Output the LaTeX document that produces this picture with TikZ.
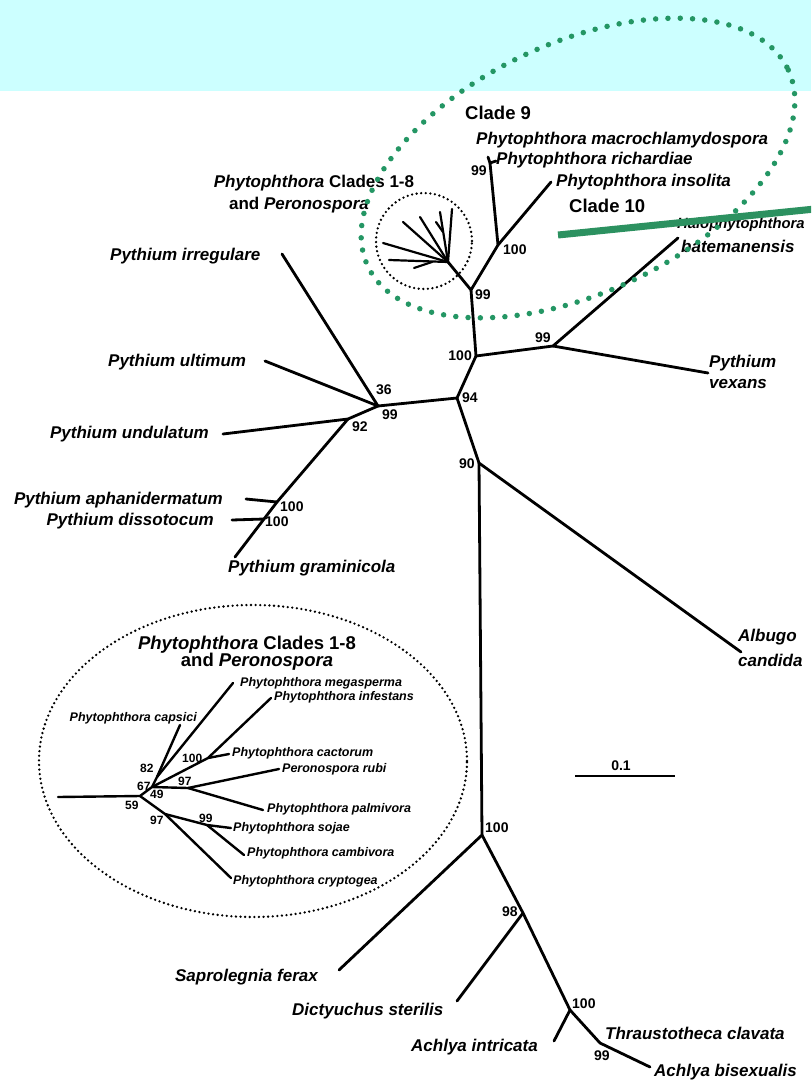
\documentclass[tikz,border=0pt]{standalone}
\usepackage{fontspec}
\setmainfont{Liberation Sans}
\usetikzlibrary{shapes.geometric}
\definecolor{bandcyan}{RGB}{204,255,255}
\definecolor{dotgreen}{RGB}{36,150,100}
\definecolor{linegreen}{RGB}{44,145,96}
\tikzset{
  tree/.style={line width=2.8pt, line cap=round, line join=round},
  itree/.style={line width=2.4pt, line cap=round, line join=round},
  ftree/.style={line width=2.2pt, line cap=round, line join=round},
  taxon/.style={font=\fontsize{17}{19}\selectfont\bfseries\itshape, inner sep=0pt},
  boot/.style={font=\fontsize{14}{16}\selectfont\bfseries, inner sep=0pt},
  itaxon/.style={font=\fontsize{12.5}{14}\selectfont\bfseries\itshape, inner sep=0pt},
  iboot/.style={font=\fontsize{12}{14}\selectfont\bfseries, inner sep=0pt},
  cladelbl/.style={font=\fontsize{18.5}{21}\selectfont\bfseries, inner sep=0pt},
  greendots/.style={draw=dotgreen, line width=5.5pt, line cap=round, dash pattern=on 0pt off 12.3pt},
  blackdots/.style={draw=black, line width=2.6pt, line cap=round, dash pattern=on 0pt off 4.6pt},
}
\begin{document}
\begin{tikzpicture}[x=1pt,y=-1pt]
\useasboundingbox (0,0) rectangle (811,1081);
\fill[bandcyan] (0,0) rectangle (811,91);

% ---------- main tree coordinates ----------
\coordinate (cA) at (471,290);
\coordinate (c100a) at (498,245);
\coordinate (c99a) at (490,163);
\coordinate (eMacro) at (488,157);
\coordinate (eRich) at (496,161);
\coordinate (eInsol) at (551,182);
\coordinate (cRoot) at (448,262);
\coordinate (c100b) at (476,356);
\coordinate (c99b) at (553,346);
\coordinate (eHalo) at (678,238);
\coordinate (eVex) at (708,373);
\coordinate (c94) at (457,398);
\coordinate (c36) at (378,406);
\coordinate (eIrr) at (282,254);
\coordinate (eUlt) at (265,361);
\coordinate (c92) at (348,419);
\coordinate (eUnd) at (223,434);
\coordinate (c100c) at (277,502);
\coordinate (eAph) at (246,499);
\coordinate (c100d) at (264,519);
\coordinate (eDis) at (232,520);
\coordinate (eGram) at (235,557);
\coordinate (c90) at (479,463);
\coordinate (eAlb) at (741,652);
\coordinate (c100e) at (482,835);
\coordinate (eSap) at (339,970);
\coordinate (c98) at (523,913);
\coordinate (eDic) at (457,1001);
\coordinate (c100f) at (570,1010);
\coordinate (eInt) at (554,1041);
\coordinate (c99c) at (600,1043);
\coordinate (eBis) at (650,1067);

% ---------- main tree edges ----------
\draw[tree] (cRoot) -- (cA) -- (c100b);
\draw[tree] (cA) -- (c100a) -- (eInsol);
\draw[tree] (c100a) -- (c99a) -- (eMacro);
\draw[tree] (c99a) -- (eRich);
\draw[tree] (c100b) -- (c99b) -- (eHalo);
\draw[tree] (c99b) -- (eVex);
\draw[tree] (c100b) -- (c94) -- (c36) -- (eIrr);
\draw[tree] (c36) -- (eUlt);
\draw[tree] (c36) -- (c92) -- (eUnd);
\draw[tree] (c92) -- (c100c) -- (c100d) -- (eGram);
\draw[tree] (c100c) -- (eAph);
\draw[tree] (c100d) -- (eDis);
\draw[tree] (c94) -- (c90) -- (eAlb);
\draw[tree] (c90) -- (c100e) -- (eSap);
\draw[tree] (c100e) -- (c98) -- (eDic);
\draw[tree] (c98) -- (c100f) -- (eInt);
\draw[tree] (c100f) -- (c99c) -- (eBis);

% ---------- small collapsed fan ----------
\coordinate (f1) at (383,243);
\coordinate (f2) at (389,260);
\coordinate (f2a) at (432,262);
\coordinate (f3) at (414,268);
\coordinate (f4) at (403,222);
\coordinate (f5) at (420,217);
\coordinate (f6) at (440,212);
\coordinate (f7) at (452,209);
\coordinate (f8a) at (443,232);
\coordinate (f8) at (436,222);
\draw[ftree] (cRoot) -- (f1);
\draw[ftree] (cRoot) -- (f2);
\draw[ftree] (f2a) -- (f3);
\draw[ftree] (cRoot) -- (f4);
\draw[ftree] (cRoot) -- (f5);
\draw[ftree] (cRoot) -- (f6);
\draw[ftree] (cRoot) -- (f7);
\draw[ftree] (f8a) -- (f8);
\node[blackdots, circle, minimum size=96pt, inner sep=0pt] (smallcirc) at (424,241) {};

% ---------- main labels ----------
\node[cladelbl, anchor=west] (lClade9) at (465,113) {Clade 9};
\node[taxon, anchor=west] (lMacro) at (476,140) {Phytophthora macrochlamydospora};
\node[taxon, anchor=west] (lRich) at (496,160) {Phytophthora richardiae};
\node[taxon, anchor=west] (lInsol) at (556,182) {Phytophthora insolita};
\node[cladelbl, anchor=west] (lClade10) at (569,206) {Clade 10};
\node[taxon, font=\fontsize{14.8}{17}\selectfont\bfseries\itshape, anchor=west] (lHalo) at (677,225) {Halophytophthora};
\node[taxon, anchor=west] (lBate) at (681,246) {batemanensis};
\node[taxon, anchor=west] (lVex1) at (709,363) {Pythium};
\node[taxon, anchor=west] (lVex2) at (709,384) {vexans};
\node[taxon, anchor=west] (lAlb1) at (738,637) {Albugo};
\node[taxon, anchor=west] (lAlb2) at (738,660) {candida};
\node[taxon, anchor=west] (lIrr) at (110,256) {Pythium irregulare};
\node[taxon, anchor=west] (lUlt) at (108,362) {Pythium ultimum};
\node[taxon, anchor=east] (lUnd) at (209,434) {Pythium undulatum};
\node[taxon, anchor=east] (lAph) at (223,500) {Pythium aphanidermatum};
\node[taxon, anchor=east] (lDis) at (214,521) {Pythium dissotocum};
\node[taxon, anchor=west] (lGram) at (228,568) {Pythium graminicola};
\node[font=\fontsize{17}{19}\selectfont\bfseries, inner sep=0pt, anchor=center] (lClA) at (314,183) {\textit{Phytophthora} Clades 1-8};
\node[font=\fontsize{17}{19}\selectfont\bfseries, inner sep=0pt, anchor=center] (lClB) at (299,205) {and \textit{Peronospora}};
\node[taxon, anchor=east] (lSap) at (318,977) {Saprolegnia ferax};
\node[taxon, anchor=west] (lDic) at (292,1011) {Dictyuchus sterilis};
\node[taxon, anchor=east] (lInt) at (538,1047) {Achlya intricata};
\node[taxon, anchor=west] (lThr) at (605,1033) {Thraustotheca clavata};
\node[taxon, anchor=west] (lBis) at (654,1072) {Achlya bisexualis};

% ---------- bootstrap values ----------
\node[boot, anchor=west] (b100a) at (503,250) {100};
\node[boot, anchor=west] (b99a) at (471,171) {99};
\node[boot, anchor=west] (b99cA) at (475,295) {99};
\node[boot, anchor=east] (b100b) at (472,356) {100};
\node[boot, anchor=west] (b99b) at (535,338) {99};
\node[boot, anchor=west] (b94) at (462,398) {94};
\node[boot, anchor=west] (b90) at (459,464) {90};
\node[boot, anchor=west] (b36) at (376,390) {36};
\node[boot, anchor=west] (b99c) at (382,415) {99};
\node[boot, anchor=west] (b92) at (352,427) {92};
\node[boot, anchor=west] (b100c) at (280,507) {100};
\node[boot, anchor=west] (b100d) at (265,522) {100};
\node[boot, anchor=west] (b100e) at (485,828) {100};
\node[boot, anchor=west] (b98) at (502,912) {98};
\node[boot, anchor=west] (b100f) at (572,1004) {100};
\node[boot, anchor=west] (b99d) at (594,1056) {99};

% ---------- scale bar ----------
\coordinate (sL) at (575,776);
\coordinate (sR) at (675,776);
\draw[line width=2.4pt] (sL) -- (sR);
\node[boot, anchor=center] (lScale) at (621,766) {0.1};

% ---------- inset ----------
\node[blackdots, ellipse, minimum width=428pt, minimum height=312pt, inner sep=0pt] (insetEll) at (253,761) {};
\node[font=\fontsize{18.5}{21}\selectfont\bfseries, inner sep=0pt] (iT1) at (247,645) {\textit{Phytophthora} Clades 1-8};
\node[font=\fontsize{18.5}{21}\selectfont\bfseries, inner sep=0pt] (iT2) at (257,662) {and \textit{Peronospora}};

\coordinate (iRootL) at (58,797);
\coordinate (iR) at (140,796);
\coordinate (iU) at (152,787);
\coordinate (i82) at (157,777);
\coordinate (iCap) at (180,725);
\coordinate (iMeg) at (233,683);
\coordinate (i100) at (208,758);
\coordinate (iInf) at (271,698);
\coordinate (iCac) at (229,754);
\coordinate (i97u) at (188,788);
\coordinate (iRub) at (279,769);
\coordinate (iPal) at (263,810);
\coordinate (iL) at (165,814);
\coordinate (i99) at (207,825);
\coordinate (iSoj) at (231,828);
\coordinate (iCam) at (244,855);
\coordinate (iCry) at (231,878);

\draw[itree] (iRootL) -- (iR) -- (iU) -- (i82) -- (iCap);
\draw[itree] (i82) -- (iMeg);
\draw[itree] (iU) -- (i100) -- (iInf);
\draw[itree] (i100) -- (iCac);
\draw[itree] (iU) -- (i97u) -- (iRub);
\draw[itree] (i97u) -- (iPal);
\draw[itree] (iR) -- (iL) -- (i99) -- (iSoj);
\draw[itree] (i99) -- (iCam);
\draw[itree] (iL) -- (iCry);

\node[itaxon, anchor=west] (tMeg) at (240,683) {Phytophthora megasperma};
\node[itaxon, anchor=west] (tInf) at (274,697) {Phytophthora infestans};
\node[itaxon, anchor=east] (tCap) at (197,718) {Phytophthora capsici};
\node[itaxon, anchor=west] (tCac) at (232,753) {Phytophthora cactorum};
\node[itaxon, anchor=west] (tRub) at (282,769) {Peronospora rubi};
\node[itaxon, anchor=west] (tPal) at (267,809) {Phytophthora palmivora};
\node[itaxon, anchor=west] (tSoj) at (233,828) {Phytophthora sojae};
\node[itaxon, anchor=west] (tCam) at (247,853) {Phytophthora cambivora};
\node[itaxon, anchor=west] (tCry) at (233,881) {Phytophthora cryptogea};

\node[iboot, anchor=west] (n82) at (140,768) {82};
\node[iboot, anchor=west] (n100) at (182,758) {100};
\node[iboot, anchor=west] (n97u) at (178,781) {97};
\node[iboot, anchor=west] (n67) at (137,786) {67};
\node[iboot, anchor=west] (n49) at (150,794) {49};
\node[iboot, anchor=west] (n59) at (125,805) {59};
\node[iboot, anchor=west] (n97l) at (150,820) {97};
\node[iboot, anchor=west] (n99) at (199,818) {99};

% ---------- green overlay ----------
\begin{scope}
\clip (0,0) rectangle (811,1081);
\draw[greendots, rotate around={25:(578,168)}] (578,168) ellipse [x radius=232, y radius=125];
\coordinate (gL) at (558,235);
\coordinate (gR) at (815,209);
\draw[linegreen, line width=7pt] (gL) -- (gR);
\end{scope}
\end{tikzpicture}
\end{document}
